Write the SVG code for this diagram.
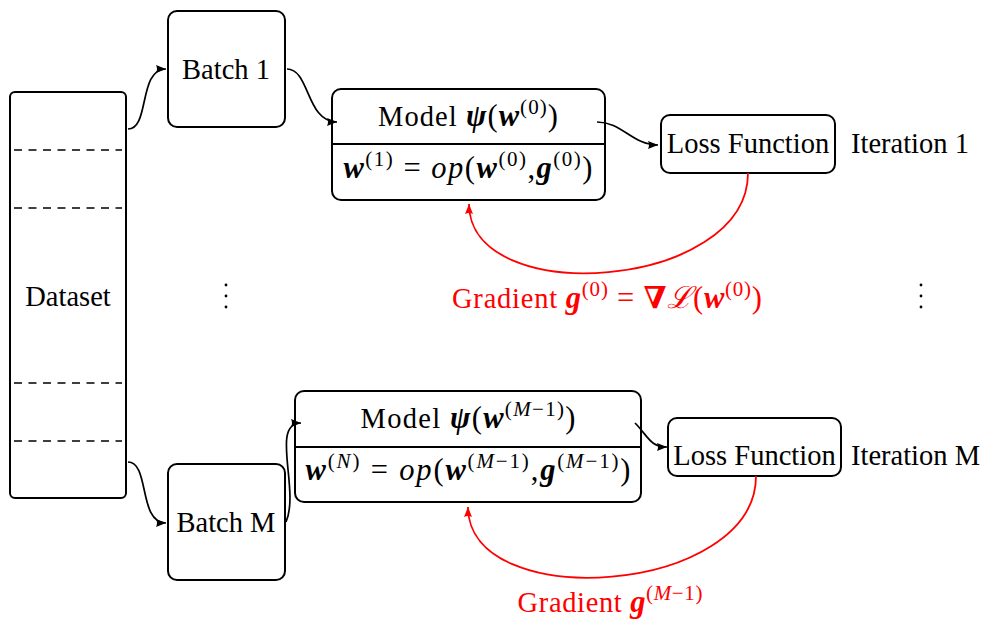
<svg xmlns="http://www.w3.org/2000/svg" width="987" height="619" viewBox="0 0 987 619">
  <defs>
    <style>
      text { font-family: "Liberation Serif", "DejaVu Serif", serif; font-size: 28.5px; fill: #000; }
      .c { text-anchor: middle; }
      .m { font-size: 30.5px; }
      .w { font-size: 28.5px; }
      .bi { font-style: italic; font-weight: bold; }
      .it { font-style: italic; }
      .sup { font-size: 21px; }
      .red { fill: #ff0000; }
      .box { fill: #fff; stroke: #000; stroke-width: 2; }
      .div { stroke: #000; stroke-width: 2; }
      .dash { stroke: #000; stroke-width: 1.4; stroke-dasharray: 8 6.5; }
      .edge { fill: none; stroke: #000; stroke-width: 1.7; }
      .grad { fill: none; stroke: #ff0000; stroke-width: 1.8; }
    </style>
    <marker id="ah" viewBox="0 0 10 8" refX="10" refY="4" markerWidth="10" markerHeight="8" markerUnits="userSpaceOnUse" orient="auto">
      <path d="M0,0 L10,4 L0,8 Q2,4 0,0 z" fill="#000"/>
    </marker>
    <marker id="ahr" viewBox="0 0 10 8" refX="10" refY="4" markerWidth="10" markerHeight="8" markerUnits="userSpaceOnUse" orient="auto">
      <path d="M0,0 L10,4 L0,8 Q2,4 0,0 z" fill="#ff0000"/>
    </marker>
  </defs>

  <!-- dataset split into batches -->
  <g id="dataset">
    <rect class="box" x="10" y="92" width="116" height="406" rx="5"/>
    <line class="dash" x1="14" y1="150" x2="122" y2="150"/>
    <line class="dash" x1="14" y1="208" x2="122" y2="208"/>
    <line class="dash" x1="14" y1="383" x2="122" y2="383"/>
    <line class="dash" x1="14" y1="441" x2="122" y2="441"/>
    <text class="c" x="68" y="306">Dataset</text>
  </g>

  <g id="batch1">
    <rect class="box" x="168" y="11" width="117" height="116" rx="9"/>
    <text class="c" x="226" y="79">Batch 1</text>
  </g>

  <g id="batchM">
    <rect class="box" x="168" y="464" width="117" height="116" rx="9"/>
    <text class="c" x="226" y="532">Batch M</text>
  </g>

  <g id="model1">
    <rect class="box" x="332" y="89" width="273" height="111" rx="9"/>
    <line class="div" x1="332" y1="144" x2="605" y2="144"/>
    <text class="c m" x="468" y="126" textLength="180" lengthAdjust="spacing"><tspan class="w">Model </tspan><tspan class="bi">ψ</tspan>(<tspan class="bi">w</tspan><tspan class="sup" dy="-12">(0)</tspan><tspan dy="12">)</tspan></text>
    <text class="c m" x="468" y="178" textLength="249" lengthAdjust="spacing"><tspan class="bi">w</tspan><tspan class="sup" dy="-12">(1)</tspan><tspan dy="12"> = </tspan><tspan class="it">op</tspan>(<tspan class="bi">w</tspan><tspan class="sup" dy="-12">(0)</tspan><tspan dy="12">,</tspan><tspan class="bi">g</tspan><tspan class="sup" dy="-12">(0)</tspan><tspan dy="12">)</tspan></text>
  </g>

  <g id="modelM">
    <rect class="box" x="295" y="391" width="346" height="111" rx="9"/>
    <line class="div" x1="295" y1="447" x2="641" y2="447"/>
    <text class="c m" x="468" y="428" textLength="215" lengthAdjust="spacing"><tspan class="w">Model </tspan><tspan class="bi">ψ</tspan>(<tspan class="bi">w</tspan><tspan class="sup" dy="-12">(<tspan class="it">M</tspan>−1)</tspan><tspan dy="12">)</tspan></text>
    <text class="c m" x="468" y="480" textLength="325" lengthAdjust="spacing"><tspan class="bi">w</tspan><tspan class="sup" dy="-12">(<tspan class="it">N</tspan>)</tspan><tspan dy="12"> = </tspan><tspan class="it">op</tspan>(<tspan class="bi">w</tspan><tspan class="sup" dy="-12">(<tspan class="it">M</tspan>−1)</tspan><tspan dy="12">,</tspan><tspan class="bi">g</tspan><tspan class="sup" dy="-12">(<tspan class="it">M</tspan>−1)</tspan><tspan dy="12">)</tspan></text>
  </g>

  <g id="loss1">
    <rect class="box" x="661" y="115" width="174" height="58" rx="9"/>
    <text class="c" x="748" y="153">Loss Function</text>
  </g>

  <g id="lossM">
    <rect class="box" x="668" y="418" width="173" height="58" rx="9"/>
    <text class="c" x="754.5" y="465">Loss Function</text>
  </g>

  <g id="labels">
    <text x="851" y="153">Iteration 1</text>
    <text x="851" y="465">Iteration M</text>
    <text class="c m red" x="607" y="308" textLength="310" lengthAdjust="spacing"><tspan class="w">Gradient </tspan><tspan class="bi">g</tspan><tspan class="sup" dy="-12">(0)</tspan><tspan dy="12"> = </tspan><tspan font-weight="bold">∇</tspan><tspan class="it">ℒ</tspan>(<tspan class="bi">w</tspan><tspan class="sup" dy="-12">(0)</tspan><tspan dy="12">)</tspan></text>
    <text class="c m red" x="610" y="612" textLength="185" lengthAdjust="spacing"><tspan class="w">Gradient </tspan><tspan class="bi">g</tspan><tspan class="sup" dy="-12">(<tspan class="it">M</tspan>−1)</tspan></text>
  </g>

  <!-- vertical ellipses between iterations -->
  <g id="vdots">
    <circle cx="226" cy="285" r="1.4"/>
    <circle cx="226" cy="296" r="1.4"/>
    <circle cx="226" cy="307" r="1.4"/>
    <circle cx="921" cy="285" r="1.4"/>
    <circle cx="921" cy="296" r="1.4"/>
    <circle cx="921" cy="307" r="1.4"/>
  </g>

  <g id="connectors">
    <path class="edge" marker-end="url(#ah)" d="M128,129 C150,129 138,69 166,69"/>
    <path class="edge" marker-end="url(#ah)" d="M287,69 C310,69 306,122 337,122"/>
    <path class="edge" marker-end="url(#ah)" d="M597,122 C622,122 632,145 658,145"/>
    <path class="edge" marker-end="url(#ah)" d="M128,462 C150,462 138,523 166,523"/>
    <path class="edge" marker-end="url(#ah)" d="M286,522 C300,490 270,423 301,423"/>
    <path class="edge" marker-end="url(#ah)" d="M635,423 C648,436 650,447 667,447"/>
    <path class="grad" marker-end="url(#ahr)" d="M748,173 C748,290 469,310 469,204"/>
    <path class="grad" marker-end="url(#ahr)" d="M756,476 C756,595 468,615 468,507"/>
  </g>
</svg>
